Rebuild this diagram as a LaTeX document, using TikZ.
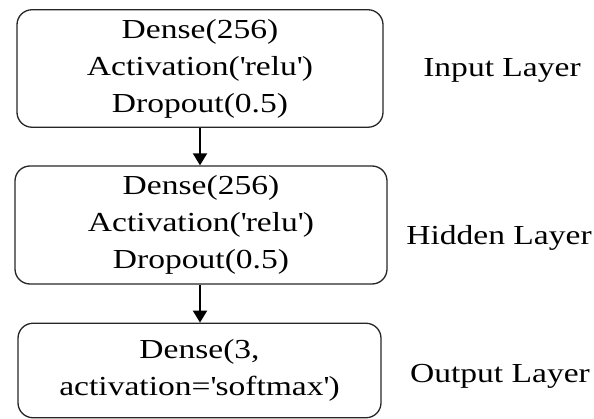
\documentclass[tikz,border=0pt]{standalone}
\usepackage{fontspec}
\setmainfont[FakeStretch=1.22,Ligatures=NoCommon]{Liberation Serif}
\usetikzlibrary{arrows.meta}
\newcommand{\sq}{\textquotesingle}
\begin{document}
\begin{tikzpicture}[x=1pt,y=-1pt,
  layerbox/.style={draw=black!85, line width=1.3pt, rounded corners=15pt, inner sep=0pt,
    font=\fontsize{27.5}{37}\selectfont, align=center},
  layerlabel/.style={font=\fontsize{27.5}{37}\selectfont, anchor=base, inner sep=0pt},
  conn/.style={-{Triangle[length=12pt,width=14pt]}, line width=2pt, black}]
\useasboundingbox (0,0) rectangle (594,419);
\node[layerbox, minimum width=366pt, minimum height=117.5pt] (b1) at (200,68.5)
  {Dense(256)\\Activation(\sq relu\sq)\\Dropout(0.5)};
\node[layerbox, minimum width=372pt, minimum height=118pt] (b2) at (201,225)
  {Dense(256)\\Activation(\sq relu\sq)\\Dropout(0.5)};
\node[layerbox, minimum width=363pt, minimum height=94.5pt] (b3) at (199.5,370.5)
  {Dense(3,\\activation=\sq softmax\sq)};
\node[layerlabel] (l1) at (502,77) {Input Layer};
\node[layerlabel] (l2) at (499,245) {Hidden Layer};
\node[layerlabel] (l3) at (500,382) {Output Layer};
\draw[conn] (b1.south -| 200,0) -- (b2.north -| 200,0);
\draw[conn] (b2.south -| 200,0) -- (b3.north -| 200,0);
\end{tikzpicture}
\end{document}
